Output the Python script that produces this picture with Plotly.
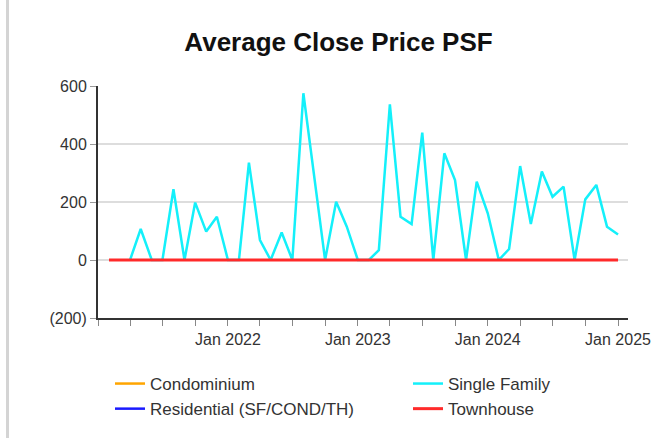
import plotly.graph_objects as go

months = ["2021-02-01", "2021-03-01", "2021-04-01", "2021-05-01", "2021-06-01", "2021-07-01",
          "2021-08-01", "2021-09-01", "2021-10-01", "2021-11-01", "2021-12-01", "2022-01-01",
          "2022-02-01", "2022-03-01", "2022-04-01", "2022-05-01", "2022-06-01", "2022-07-01",
          "2022-08-01", "2022-09-01", "2022-10-01", "2022-11-01", "2022-12-01", "2023-01-01",
          "2023-02-01", "2023-03-01", "2023-04-01", "2023-05-01", "2023-06-01", "2023-07-01",
          "2023-08-01", "2023-09-01", "2023-10-01", "2023-11-01", "2023-12-01", "2024-01-01",
          "2024-02-01", "2024-03-01", "2024-04-01", "2024-05-01", "2024-06-01", "2024-07-01",
          "2024-08-01", "2024-09-01", "2024-10-01", "2024-11-01", "2024-12-01", "2025-01-01"]

single_family = [None, None, 0, 107, 0, 0,
                 244, 0, 198, 98, 149, 0,
                 0, 336, 69, 0, 95, 0,
                 575, 280, 0, 201, 115, 0,
                 0, 34, 537, 149, 124, 439,
                 0, 368, 276, 0, 270, 161,
                 0, 38, 324, 124, 305, 218,
                 253, 0, 209, 259, 115, 88]

townhouse = [0] * len(months)
condominium = [None] * len(months)
residential = [None] * len(months)

y_tickvals = [-200, 0, 200, 400, 600]
y_ticktext = ["(200)", "0", "200", "400", "600"]

x_tickvals = ["2021-01-01", "2021-04-01", "2021-07-01", "2021-10-01",
              "2022-01-01", "2022-04-01", "2022-07-01", "2022-10-01",
              "2023-01-01", "2023-04-01", "2023-07-01", "2023-10-01",
              "2024-01-01", "2024-04-01", "2024-07-01", "2024-10-01",
              "2025-01-01"]
x_ticktext = ["", "", "", "",
              "Jan 2022", "", "", "",
              "Jan 2023", "", "", "",
              "Jan 2024", "", "", "",
              "Jan 2025"]

FONT = "Liberation Sans, Arial, sans-serif"
W, H = 651, 438
L, R, T, B = 98, 23, 86, 120
PW, PH = W - L - R, H - T - B

fig = go.Figure()
fig.add_trace(go.Scatter(x=months, y=condominium, mode="lines", name="Condominium",
                         line=dict(color="#FFA500", width=2.5), legend="legend"))
fig.add_trace(go.Scatter(x=months, y=residential, mode="lines", name="Residential (SF/COND/TH)",
                         line=dict(color="#1a1aff", width=2.5), legend="legend"))
fig.add_trace(go.Scatter(x=months, y=single_family, mode="lines", name="Single Family",
                         line=dict(color="#14F0FA", width=2.5), legend="legend2"))
fig.add_trace(go.Scatter(x=months, y=townhouse, mode="lines", name="Townhouse",
                         line=dict(color="#FF2A2A", width=3), legend="legend2"))

legend_font = dict(family=FONT, size=17, color="#333333")
leg_y = (H - B - 366) / PH

fig.update_layout(
    width=W, height=H,
    margin=dict(l=L, r=R, t=T, b=B, autoexpand=False),
    paper_bgcolor="white", plot_bgcolor="white",
    font=dict(family=FONT, size=16, color="#333333"),
    title=dict(text="<b>Average Close Price PSF</b>", x=0.52, xref="container", xanchor="center",
               y=0.904, yref="container", yanchor="middle",
               font=dict(family=FONT, size=26, color="#111111")),
    showlegend=True,
    legend=dict(x=(110 - L) / PW, y=leg_y, xanchor="left", yanchor="top", orientation="v",
                font=legend_font, bgcolor="rgba(0,0,0,0)", tracegroupgap=0),
    legend2=dict(x=(408 - L) / PW, y=leg_y, xanchor="left", yanchor="top", orientation="v",
                 font=legend_font, bgcolor="rgba(0,0,0,0)", tracegroupgap=0),
    xaxis=dict(type="date", range=["2021-01-01", "2025-01-29"], automargin=False,
               tickmode="array", tickvals=x_tickvals, ticktext=x_ticktext,
               showgrid=False, zeroline=False, ticklabeloverflow="allow",
               showline=True, linecolor="#333333", linewidth=2,
               ticks="outside", ticklen=6, tickcolor="#888888", tickwidth=1,
               tickfont=dict(family=FONT, size=16, color="#333333")),
    yaxis=dict(range=[-200, 600], automargin=False,
               tickmode="array", tickvals=y_tickvals, ticktext=y_ticktext,
               showgrid=True, gridcolor="#dddddd", gridwidth=2, zeroline=False,
               showline=True, linecolor="#333333", linewidth=2,
               ticks="outside", ticklen=6, tickcolor="#999999", tickwidth=1,
               tickfont=dict(family=FONT, size=16, color="#333333")),
    shapes=[dict(type="line", xref="paper", yref="paper",
                 x0=(7.5 - L) / PW, x1=(7.5 - L) / PW, y0=-B / PH, y1=1 + T / PH,
                 line=dict(color="#d4d4d4", width=3))],
)

fig.write_html("out.html", config={"displayModeBar": False},
               post_script="document.body.style.margin='0px';document.body.style.overflow='hidden';")
